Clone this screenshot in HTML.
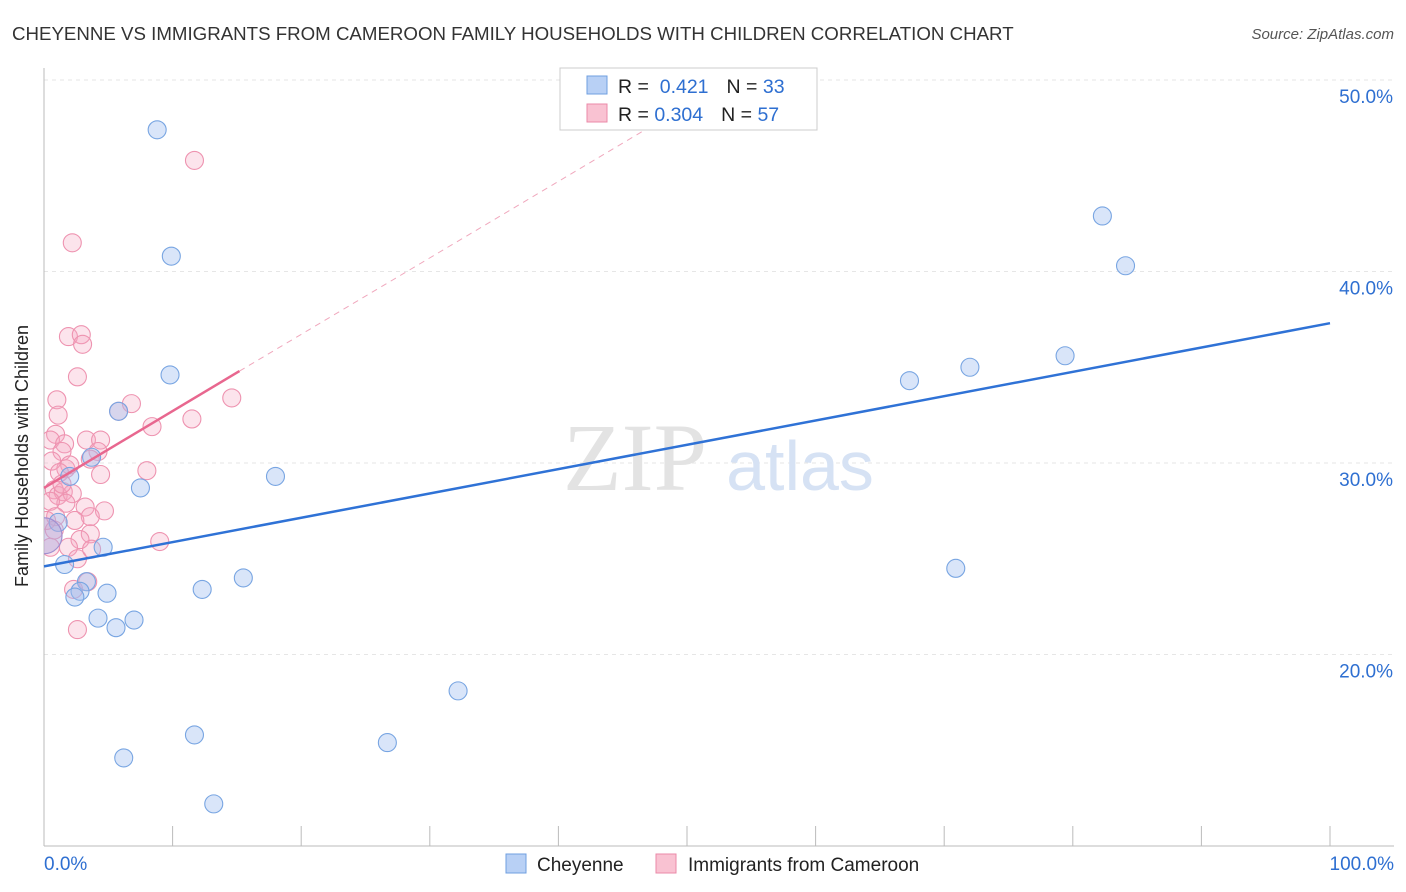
<!DOCTYPE html>
<html><head><meta charset="utf-8"><style>
body{margin:0;background:#fff;font-family:"Liberation Sans",sans-serif}
</style></head><body>
<svg id="chart" width="1406" height="892" xmlns="http://www.w3.org/2000/svg" style="display:block">
<defs><clipPath id="plotclip"><rect x="44" y="60" width="1360" height="786"/></clipPath></defs>
<text x="12" y="40" font-size="18.7" fill="#333">CHEYENNE VS IMMIGRANTS FROM CAMEROON FAMILY HOUSEHOLDS WITH CHILDREN CORRELATION CHART</text>
<text x="1394" y="39" font-size="15" fill="#555" font-style="italic" text-anchor="end">Source: ZipAtlas.com</text>
<g id="grid"></g>
<text x="635" y="490" font-size="96" fill="#e3e3e3" font-family="Liberation Serif" text-anchor="middle">ZIP</text>
<text x="800" y="490" font-size="70" fill="#d6e2f4" text-anchor="middle">atlas</text>
<g id="axes"></g>
<g id="pts" clip-path="url(#plotclip)"></g>
<g id="lines"></g>
<text x="28" y="456" font-size="18" fill="#222" text-anchor="middle" transform="rotate(-90 28 456)">Family Households with Children</text>
<g>
<rect x="560" y="68" width="257" height="62" fill="#fff" stroke="#ccc"/>
<rect x="587" y="76" width="20" height="18" fill="#b8d0f5" stroke="#6f9fe0"/>
<rect x="587" y="104" width="20" height="18" fill="#f9c2d2" stroke="#eb8aa8"/>
<text x="618" y="93" font-size="19.5" fill="#222">R = <tspan fill="#2e6fd1">&#160;0.421</tspan><tspan dx="18">N = </tspan><tspan fill="#2e6fd1">33</tspan></text>
<text x="618" y="121" font-size="19.5" fill="#222">R = <tspan fill="#2e6fd1">0.304</tspan><tspan dx="18">N = </tspan><tspan fill="#2e6fd1">57</tspan></text>
</g>
<g>
<rect x="506" y="854" width="20" height="19" fill="#b8d0f5" stroke="#6f9fe0"/>
<text x="537" y="871" font-size="19" fill="#222">Cheyenne</text>
<rect x="656" y="854" width="20" height="19" fill="#f9c2d2" stroke="#eb8aa8"/>
<text x="688" y="871" font-size="19" fill="#222">Immigrants from Cameroon</text>
</g>
</svg>
<script>
const yTicks=[20,30,40,50];
const yTickLabels=["20.0%","30.0%","40.0%","50.0%"];
const xTickLabels=["0.0%","100.0%"];
const blueX=[8.8,9.9,9.8,5.8,3.7,2.0,7.5,18.0,1.1,4.6,1.6,3.3,2.8,2.4,4.9,12.3,15.5,4.2,5.6,7.0,32.2,11.7,6.2,26.7,13.2,82.3,84.1,67.3,72.0,79.4,70.9];
const blueY=[47.4,40.8,34.6,32.7,30.3,29.3,28.7,29.3,26.9,25.6,24.7,23.8,23.3,23.0,23.2,23.4,24.0,21.9,21.4,21.8,18.1,15.8,14.6,15.4,12.2,42.9,40.3,34.3,35.0,35.6,24.5];
const pinkX=[11.7,2.2,1.9,2.9,3.0,2.6,1.0,5.8,6.8,1.1,8.4,11.5,14.6,0.9,0.5,1.6,1.4,3.3,4.4,4.2,8.0,1.7,2.0,0.6,1.2,4.4,0.8,1.1,1.5,2.2,1.7,0.5,3.2,4.7,3.6,2.4,0.9,0.2,3.6,2.8,1.9,2.6,3.7,9.0,0.5,3.4,2.3,2.6,0.8,1.4,3.6];
const pinkY=[45.8,41.5,36.6,36.7,36.2,34.5,33.3,32.7,33.1,32.5,31.9,32.3,33.4,31.5,31.2,31.0,30.6,31.2,31.2,30.6,29.6,29.7,29.9,30.1,29.5,29.4,28.6,28.3,28.5,28.4,27.9,28.0,27.7,27.5,27.2,27.0,27.2,27.0,26.3,26.0,25.6,25.0,25.5,25.9,25.6,23.8,23.4,21.3,26.5,28.9,30.2];
const bigX=[0],bigY=[26.2];
const blueLine=[[0,24.6],[100,37.3]];
const pinkLine=[[0,28.7],[15.2,34.8]];
const pinkDash=[[15.2,34.8],[47,47.5]];
const NS="http://www.w3.org/2000/svg";
const X=v=>44+v*12.86, Y=v=>846-(v-10)*19.15;
function mk(tag,attrs,parent){const e=document.createElementNS(NS,tag);for(const k in attrs)e.setAttribute(k,attrs[k]);document.getElementById(parent).appendChild(e);return e;}
yTicks.forEach((t,i)=>{
 const g=mk('line',{x1:44,x2:1394,y1:Y(t),y2:Y(t),stroke:'#e6e6e6','stroke-dasharray':'4,4'},'grid');
 
 
 const l=mk('text',{x:1393,y:Y(t)+23,'font-size':19,fill:'#2e6fd1','text-anchor':'end'},'axes');l.textContent=yTickLabels[i];
 
 
});
const ya=mk('line',{x1:44,x2:44,y1:68,y2:846,stroke:'#bbb'},'axes');


const xa=mk('line',{x1:44,x2:1394,y1:846,y2:846,stroke:'#bbb'},'axes');


for(let i=0;i<=10;i++){const t=mk('line',{x1:X(i*10),x2:X(i*10),y1:826,y2:846,stroke:'#bbb'},'axes');
 
 }
[[0,'start',44],[1,'end',1394]].forEach(([i,a,x])=>{const l=mk('text',{x:x,y:870,'font-size':19,fill:'#2e6fd1','text-anchor':a},'axes');l.textContent=xTickLabels[i];
 
 });
pinkX.forEach((v,i)=>{const c=mk('circle',{cx:X(v),cy:Y(pinkY[i]),r:9,fill:'rgba(245,165,192,0.3)',stroke:'#ee93b0','stroke-width':1.1},'pts');
 
 });
blueX.forEach((v,i)=>{const c=mk('circle',{cx:X(v),cy:Y(blueY[i]),r:9,fill:'rgba(160,190,240,0.4)',stroke:'#78a5e2','stroke-width':1.1},'pts');
 
 });
bigX.forEach((v,i)=>{const c=mk('circle',{cx:X(v),cy:Y(bigY[i]),r:18,fill:'rgba(180,170,220,0.5)',stroke:'#a090d0','stroke-width':1.2},'pts');
 
 });
const bl=mk('line',{x1:X(blueLine[0][0]),y1:Y(blueLine[0][1]),x2:X(blueLine[1][0]),y2:Y(blueLine[1][1]),stroke:'#2f72d6','stroke-width':2.5},'lines');


const pl=mk('line',{x1:X(pinkLine[0][0]),y1:Y(pinkLine[0][1]),x2:X(pinkLine[1][0]),y2:Y(pinkLine[1][1]),stroke:'#e8678f','stroke-width':2.5},'lines');


const pd=mk('line',{x1:X(pinkDash[0][0]),y1:Y(pinkDash[0][1]),x2:X(pinkDash[1][0]),y2:Y(pinkDash[1][1]),stroke:'#f0a8bd','stroke-width':1,'stroke-dasharray':'6,5'},'lines');


</script>
</body></html>
